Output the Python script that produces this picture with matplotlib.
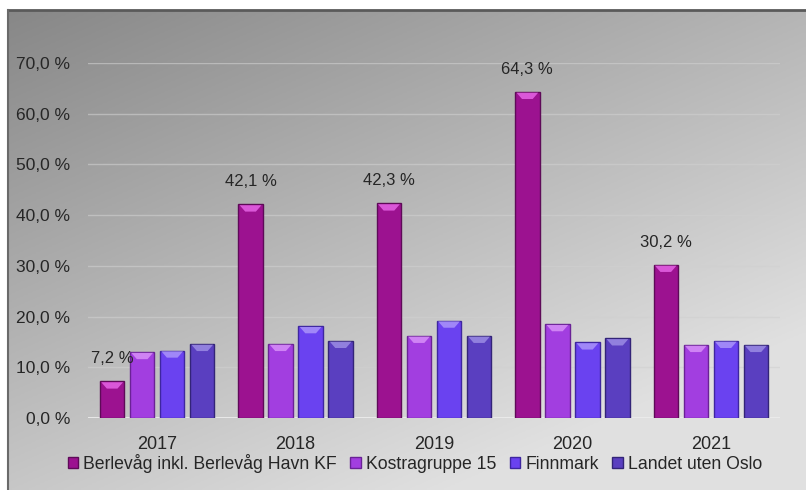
import numpy as np
import matplotlib.pyplot as plt
from matplotlib.patches import Polygon

# data ------------------------------------------------------------
years = ['2017', '2018', '2019', '2020', '2021']
berlevag = [7.2, 42.1, 42.3, 64.3, 30.2]
kostra = [13.0, 14.6, 16.2, 18.5, 14.4]
finnmark = [13.3, 18.1, 19.2, 14.9, 15.2]
landet = [14.6, 15.2, 16.2, 15.7, 14.4]
series_names = ['Berlevåg inkl. Berlevåg Havn KF', 'Kostragruppe 15', 'Finnmark', 'Landet uten Oslo']
yticks = [0, 10, 20, 30, 40, 50, 60, 70]

colors = ['#9c1290', '#a23ee0', '#6a42f0', '#5a3fc0']
edges = ['#5e0a58', '#6a2296', '#3e26a0', '#332478']
caps = ['#e664e6', '#d890f8', '#aa94fa', '#9c8ce4']

plt.rcParams['font.family'] = ['Liberation Sans', 'DejaVu Sans']

fig = plt.figure(figsize=(8.06, 4.90), dpi=100)
fig.patch.set_facecolor('white')

# gradient panel behind the chart
W, H = 806, 490
bg_ax = fig.add_axes([8 / W, 0, (W - 8) / W, (H - 10) / H])
gx = np.linspace(0, 1, 200)
gy = np.linspace(0, 1, 200)
GX, GY = np.meshgrid(gx, gy)
grad = 0.53 + 0.18 * GX + 0.25 * GY
grad = np.clip(grad, 0, 0.88)
bg_ax.imshow(np.dstack([grad, grad, grad]), aspect='auto', extent=[0, 1, 0, 1], origin='upper')
bg_ax.set_xlim(0, 1)
bg_ax.set_ylim(0, 1)
bg_ax.axis('off')
bg_ax.plot([0, 1], [1, 1], color='#5a5a5a', lw=2.0, transform=bg_ax.transAxes, clip_on=False)
bg_ax.plot([0, 0], [0, 1], color='#6a6a6a', lw=1.5, transform=bg_ax.transAxes, clip_on=False)

ax = fig.add_axes([88 / W, (H - 418) / H, 692 / W, 355 / H])
ax.patch.set_alpha(0)

data = [berlevag, kostra, finnmark, landet]
x = np.arange(len(years))
step = 0.217
width = 0.177
for i, vals in enumerate(data):
    pos = x + (i - 1.5) * step
    ax.bar(pos, vals, width=width, color=colors[i], edgecolor=edges[i], linewidth=1.0,
           label=series_names[i], zorder=3)
    # lighter bevel at the top of each bar
    for p, v in zip(pos, vals):
        l, r = p - width / 2 + 0.01, p + width / 2 - 0.01
        ax.add_patch(Polygon([(l, v - 0.15), (r, v - 0.15), (r - 0.04, v - 1.4), (l + 0.04, v - 1.4)],
                             closed=True, facecolor=caps[i], edgecolor='none', alpha=0.85, zorder=4))

for p, v in zip(x - 1.5 * step, berlevag):
    ax.text(p, v + 3.0, f'{v:.1f} %'.replace('.', ','), ha='center', va='bottom',
            fontsize=12, color='#262626', clip_on=False)

ax.set_xlim(-0.5, len(years) - 0.5)
ax.set_ylim(0, 70)
ax.set_yticks(yticks)
ax.set_yticklabels([f'{t:.1f} %'.replace('.', ',') for t in yticks], fontsize=12.5, color='#262626')
ax.set_xticks(x)
ax.set_xticklabels(years, fontsize=13, color='#262626')
ax.tick_params(length=0, axis='y', pad=13)
ax.tick_params(length=0, axis='x', pad=13)
for t in yticks[1:]:
    ax.axhline(t, color='#d0d0d0', lw=1.0, alpha=0.6, zorder=1)
ax.axhline(0, color='#ececec', lw=2.0, zorder=2)
for s in ax.spines.values():
    s.set_visible(False)

leg = ax.legend(loc='center', bbox_to_anchor=(0.4725, -0.127), ncol=4, frameon=False,
                fontsize=12.7, handlelength=0.6, handleheight=0.6, handletextpad=0.3,
                columnspacing=0.75, labelcolor='#262626', borderpad=0)

fig.savefig('out.png', dpi=100)
